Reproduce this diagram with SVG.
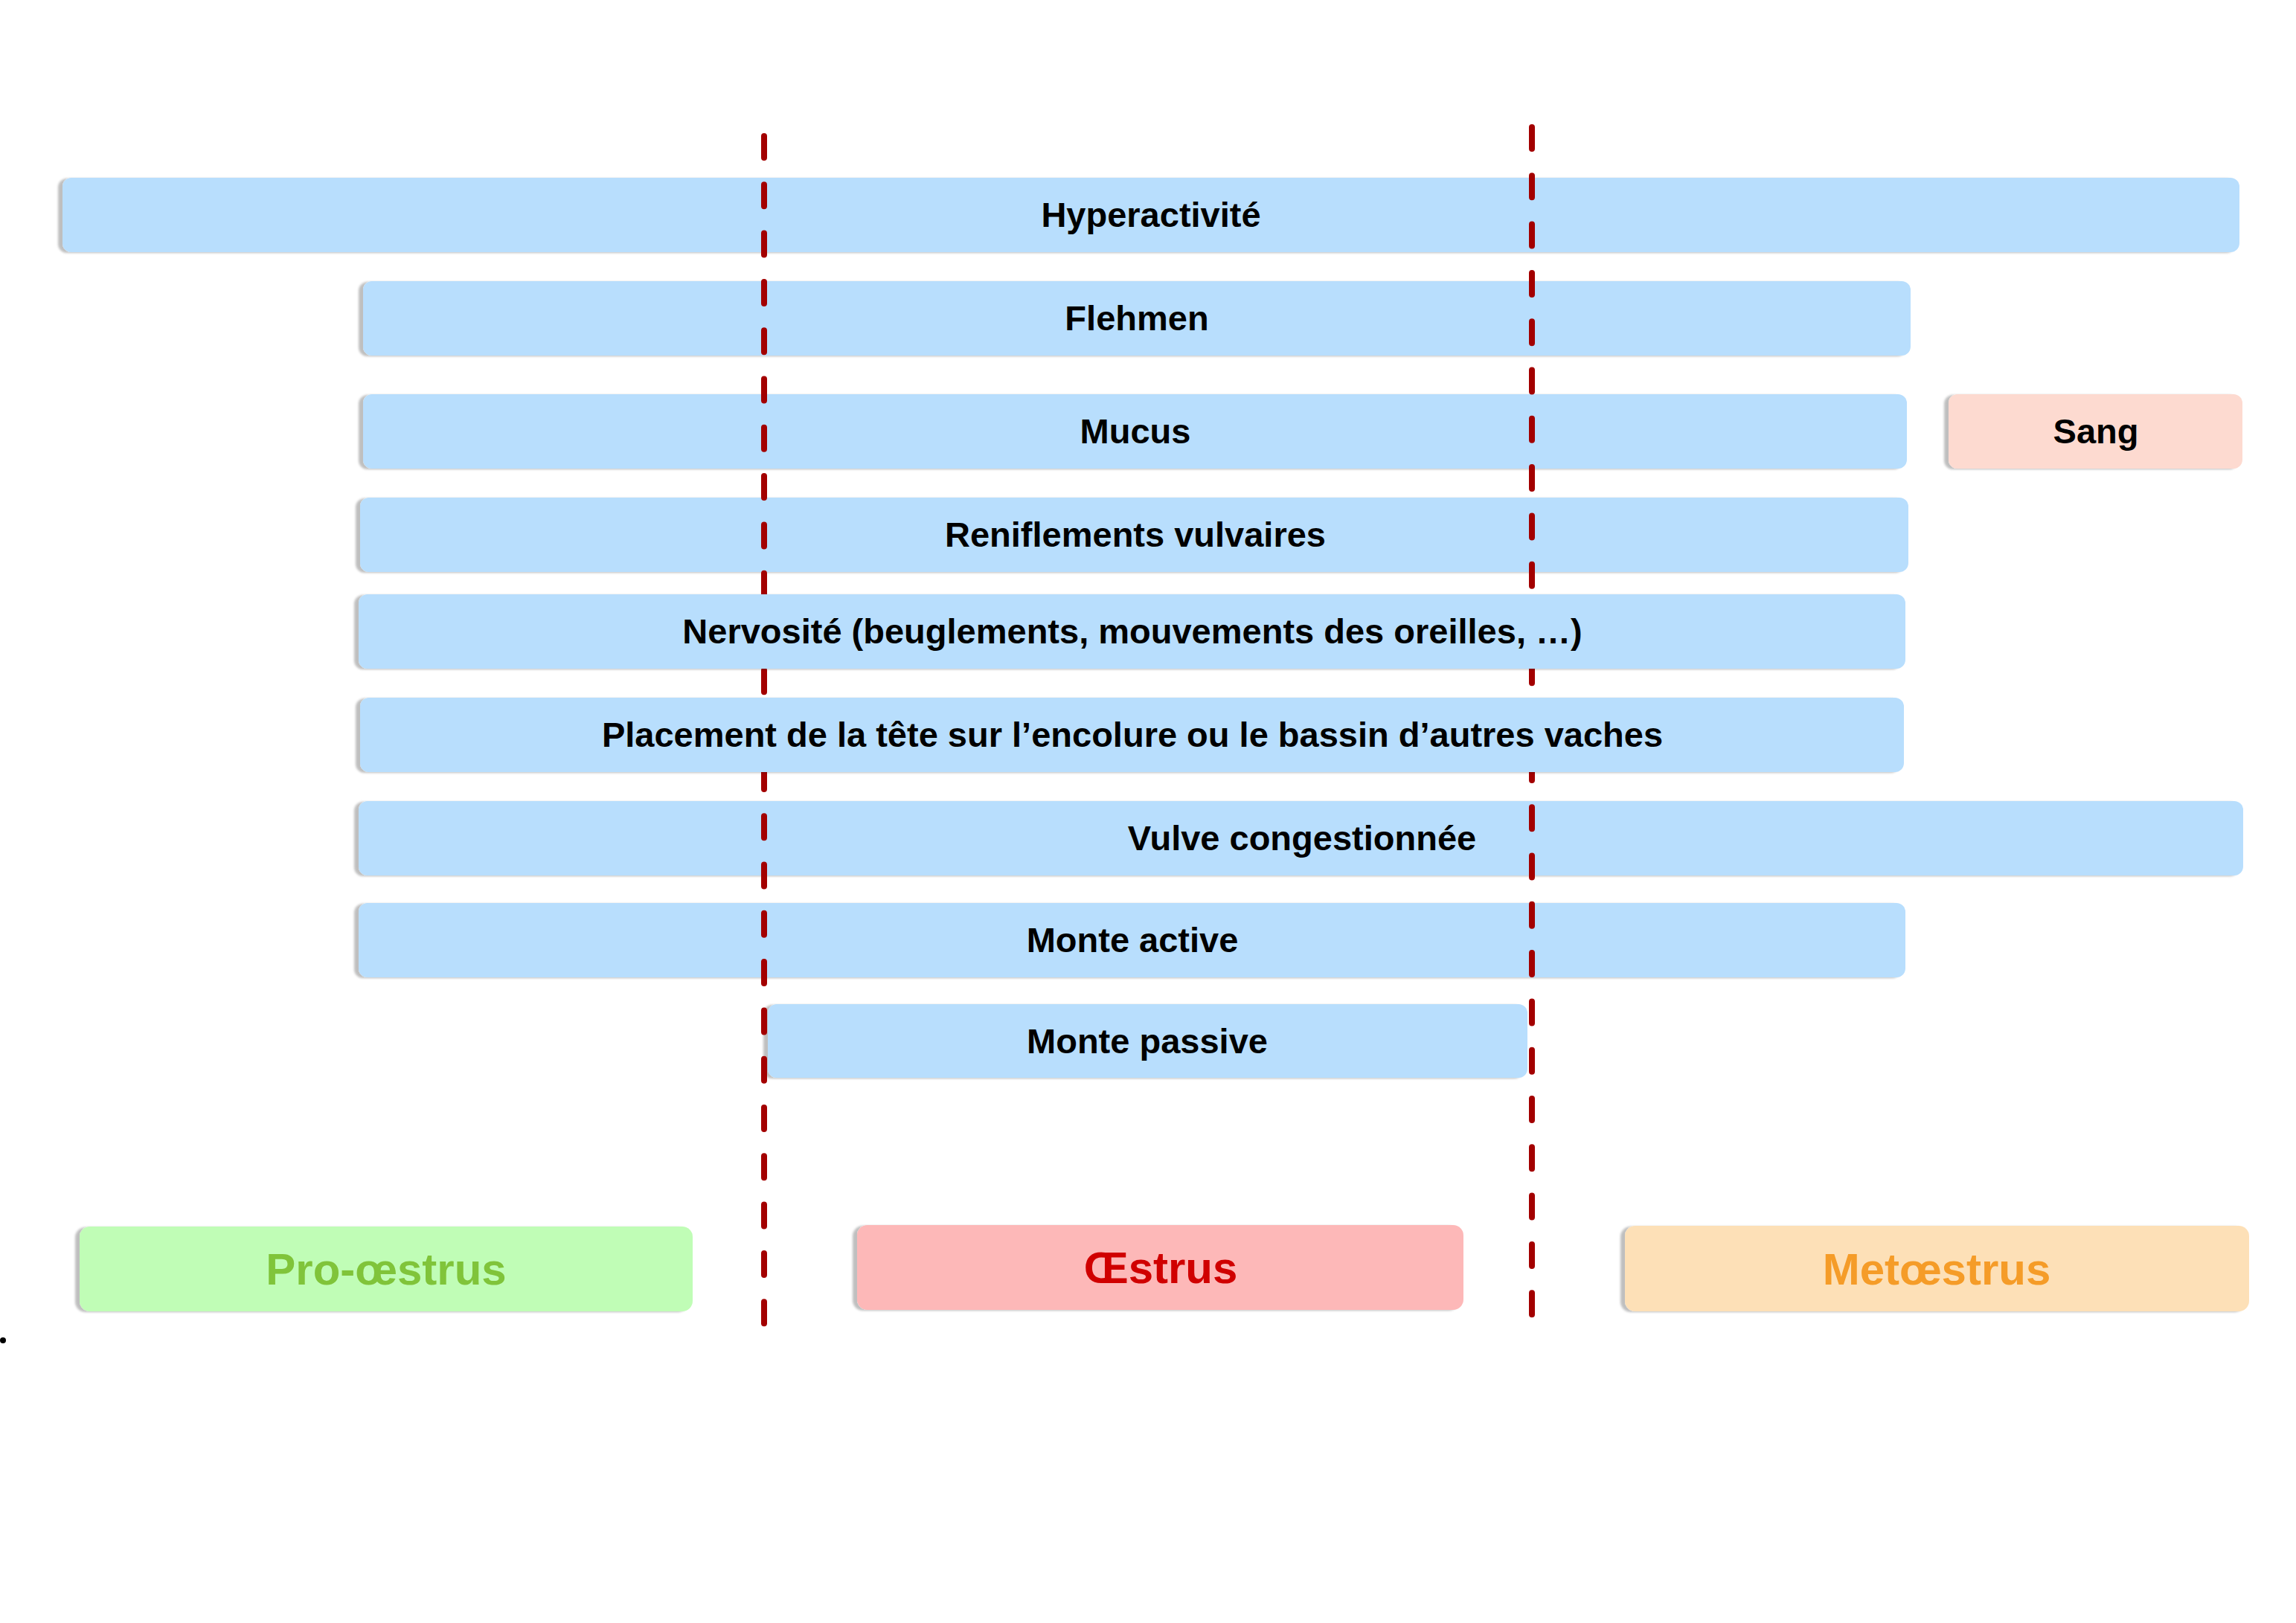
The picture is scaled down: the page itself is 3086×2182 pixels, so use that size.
<svg xmlns="http://www.w3.org/2000/svg" width="3086" height="2182" viewBox="0 0 3086 2182">
<style>
  .bar { fill: #B8DEFD; filter: url(#sh); }
  .sang { fill: #FDDAD0; filter: url(#sh); }
  .lbl { font-family: "Liberation Sans", Arial, Helvetica, sans-serif; font-weight: bold; font-size: 47px; fill: #000; text-anchor: middle; }
  .ph { font-family: "Liberation Sans", Arial, Helvetica, sans-serif; font-weight: bold; font-size: 60px; text-anchor: middle; }
  .dash { fill: none; stroke: #A30000; stroke-width: 8; stroke-linecap: round; stroke-dasharray: 29 36.3; }
</style>
<defs>
  <filter id="sh" x="-5%" y="-20%" width="110%" height="140%">
    <feDropShadow dx="-6" dy="1" stdDeviation="1.6" flood-color="#000" flood-opacity="0.25"/>
  </filter>
</defs>
<rect width="3086" height="2182" fill="#FFFFFF"/>

<g id="hyperactivite"><rect class="bar" x="84" y="239" width="2926" height="100" rx="12"/><text class="lbl" x="1547" y="305">Hyperactivité</text></g>
<g id="flehmen"><rect class="bar" x="488" y="378" width="2080" height="100" rx="12"/><text class="lbl" x="1528" y="444">Flehmen</text></g>
<g id="mucus"><rect class="bar" x="488" y="530" width="2075" height="100" rx="12"/><text class="lbl" x="1526" y="596">Mucus</text></g>
<g id="sang"><rect class="sang" x="2619" y="530" width="395" height="100" rx="12"/><text class="lbl" x="2817" y="596">Sang</text></g>
<g id="reniflements"><rect class="bar" x="484" y="669" width="2081" height="100" rx="12"/><text class="lbl" x="1526" y="735">Reniflements vulvaires</text></g>
<g id="vulve"><rect class="bar" x="482" y="1077" width="2533" height="100" rx="12"/><text class="lbl" x="1750" y="1143">Vulve congestionnée</text></g>
<g id="monte-active"><rect class="bar" x="482" y="1214" width="2079" height="100" rx="12"/><text class="lbl" x="1522" y="1280">Monte active</text></g>
<g id="monte-passive"><rect class="bar" x="1032" y="1350" width="1021" height="99" rx="12"/><text class="lbl" x="1542" y="1416">Monte passive</text></g>

<g id="pro-oestrus"><rect x="107" y="1649" width="824" height="114" rx="14" fill="#C0FDB6" filter="url(#sh)"/><text class="ph" x="519" y="1727" fill="#80C43A">Pro-œstrus</text></g>
<g id="oestrus"><rect x="1152" y="1647" width="815" height="114" rx="14" fill="#FDB8B8" filter="url(#sh)"/><text class="ph" x="1560" y="1725" fill="#D00000">Œstrus</text></g>
<g id="metoestrus"><rect x="2184" y="1648" width="839" height="115" rx="14" fill="#FDE0B7" filter="url(#sh)"/><text class="ph" x="2603" y="1727" fill="#F59C28">Metœstrus</text></g>

<g id="connectors">
  <path class="dash" d="M1027 183 V1785"/>
  <path class="dash" d="M2059 171 V1773"/>
</g>

<g id="nervosite"><rect class="bar" x="482" y="799" width="2079" height="100" rx="12"/><text class="lbl" x="1522" y="865">Nervosité (beuglements, mouvements des oreilles, …)</text></g>
<g id="placement"><rect class="bar" x="484" y="938" width="2075" height="100" rx="12"/><text class="lbl" x="1522" y="1004">Placement de la tête sur l’encolure ou le bassin d’autres vaches</text></g>

<circle cx="4" cy="1802" r="4" fill="#000"/>
</svg>
